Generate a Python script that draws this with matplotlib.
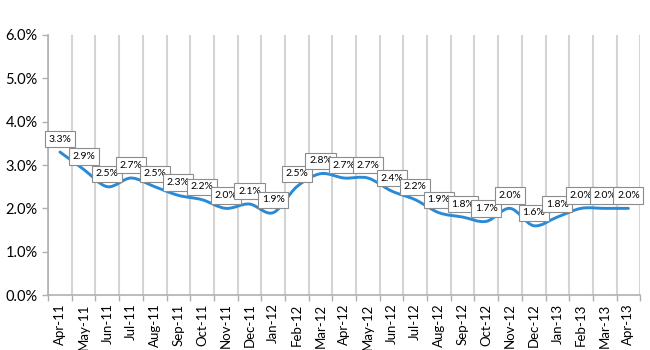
import matplotlib
matplotlib.use('Agg')
import matplotlib.pyplot as plt
from matplotlib.path import Path
from matplotlib.patches import PathPatch
from matplotlib.ticker import FuncFormatter, FixedLocator

months = ['Apr-11', 'May-11', 'Jun-11', 'Jul-11', 'Aug-11', 'Sep-11', 'Oct-11',
          'Nov-11', 'Dec-11', 'Jan-12', 'Feb-12', 'Mar-12', 'Apr-12', 'May-12',
          'Jun-12', 'Jul-12', 'Aug-12', 'Sep-12', 'Oct-12', 'Nov-12', 'Dec-12',
          'Jan-13', 'Feb-13', 'Mar-13', 'Apr-13']
rate = [3.3, 2.9, 2.5, 2.7, 2.5, 2.3, 2.2, 2.0, 2.1, 1.9, 2.5, 2.8, 2.7, 2.7,
        2.4, 2.2, 1.9, 1.8, 1.7, 2.0, 1.6, 1.8, 2.0, 2.0, 2.0]

plt.rcParams['font.family'] = ['Lato', 'DejaVu Sans']
blue = '#2a8ad6'

fig = plt.figure(figsize=(6.5, 3.5), dpi=100)
ax = fig.add_axes([0.074, 0.157, 0.911, 0.743])

x = list(range(len(rate)))

# smoothed line like excel: bezier segments, control points from neighbours
verts = [(x[0], rate[0])]
codes = [Path.MOVETO]
n = len(rate)
for i in range(n - 1):
    p0 = rate[i - 1] if i > 0 else rate[i]
    p3 = rate[i + 2] if i + 2 < n else rate[i + 1]
    x0 = x[i - 1] if i > 0 else x[i]
    x3 = x[i + 2] if i + 2 < n else x[i + 1]
    c1 = (x[i] + (x[i + 1] - x0) / 6, rate[i] + (rate[i + 1] - p0) / 6)
    c2 = (x[i + 1] - (x3 - x[i]) / 6, rate[i + 1] - (p3 - rate[i]) / 6)
    verts += [c1, c2, (x[i + 1], rate[i + 1])]
    codes += [Path.CURVE4, Path.CURVE4, Path.CURVE4]
ax.add_patch(PathPatch(Path(verts, codes), fill=False, edgecolor=blue,
                       lw=2.1, capstyle='round', zorder=3))

for xi, v in zip(x, rate):
    ax.annotate('%.1f%%' % v, (xi, v), xytext=(0, 6), textcoords='offset points',
                ha='center', va='bottom', fontsize=7.5, zorder=4,
                bbox=dict(boxstyle='square,pad=0.35', fc='white', ec='#8c8c8c', lw=0.8))

ax.set_xlim(-0.5, n - 0.5)
ax.set_ylim(0, 6)
ax.set_yticks([0, 1, 2, 3, 4, 5, 6])
ax.yaxis.set_major_formatter(FuncFormatter(lambda v, p: '%.1f%%' % v))

ax.xaxis.set_major_locator(FixedLocator([i - 0.5 for i in range(n + 1)]))
ax.xaxis.set_minor_locator(FixedLocator(x))
ax.set_xticklabels([])
ax.set_xticklabels(months, minor=True, rotation=90, fontsize=9.5)
ax.tick_params(axis='x', which='minor', length=0, pad=6)
ax.tick_params(axis='x', which='major', length=4, color='#b0b0b0', width=1)
ax.tick_params(axis='y', length=4, color='#b0b0b0', width=1, labelsize=10.5)

ax.grid(True, axis='x', which='major', color='#d4d4d4', lw=1.5)
for s in ['top', 'right']:
    ax.spines[s].set_visible(False)
for s in ['left', 'bottom']:
    ax.spines[s].set_color('#b0b0b0')
    ax.spines[s].set_linewidth(1.2)

fig.savefig('out.png', dpi=100)
